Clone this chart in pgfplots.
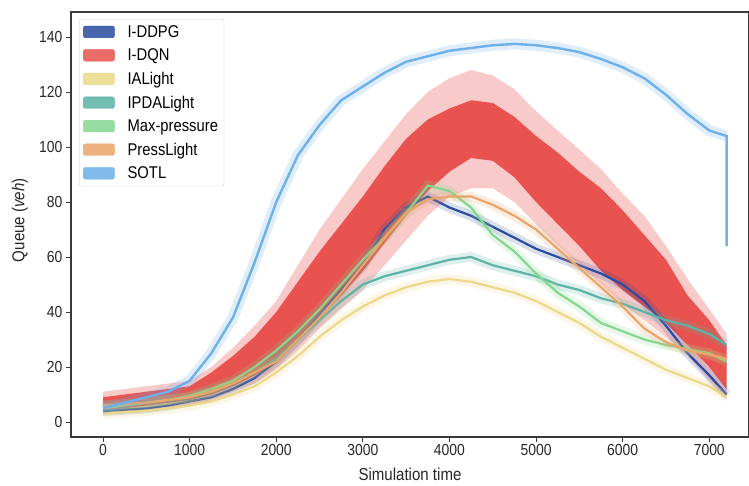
\documentclass[border=0pt]{standalone}
\usepackage{fontspec}
\setmainfont[FakeStretch=0.87]{Liberation Sans}
\usepackage{pgfplots}
\usepackage{pgfplotstable}
\pgfplotsset{compat=1.18}
\usepgfplotslibrary{fillbetween}
\definecolor{cddpg}{HTML}{2A4C9E}
\definecolor{cdqn}{HTML}{E8524F}
\definecolor{cial}{HTML}{EBD888}
\definecolor{cipda}{HTML}{5CB3A6}
\definecolor{cmaxp}{HTML}{86D690}
\definecolor{cpress}{HTML}{EBA56A}
\definecolor{csotl}{HTML}{6DB0EA}
\definecolor{spine}{HTML}{3A3A3A}
\pgfplotstableread{
x sotl ddpg dqn CL CH OL OH ial ipda maxp press
0 5 4 6.5 4 9 3 11 3 6 5 6
250 7 4.5 7.5 5 10 3.5 12 3.5 6.5 6 6.5
500 9 5 8.5 6 11 4 13 4 7 7 7
750 11 6 9.5 7 12 5 14 5 8 8 8
1000 15 7.5 10.5 8 13 6 15 6 9 9.5 9
1250 25 9 14 10 18 8 20 7.5 11 12 11
1500 38 12 18.5 13 24 11 27 10 14 15 14
1750 58 16 24 17 31 14 35 13 18 20 18
2000 80 22 31 22 40 19 44 18 23 26 22
2250 97 30 40 30 51 26 57 24 30 33 30
2500 108 39 50 38 62 34 70 31 37 41 38
2750 117 48 59 46 72 41 81 37 44 50 47
3000 122 57 68 55 82 48 92 42 50 59 57
3250 127 70 79 65 93 57 102 46 53 67 67
3500 131 78 89 75 103 66 112 49 55 76 76
3750 133 82 97 84 110 75 120 51 57 86 81
4000 135 78 102 91 114 82 125 52 59 84 82
4250 136 75 106 96 117 85 128 51 60 78 82
4500 137 71 105 95 116 85 126 49 57 68 79
4750 137.5 67 100 89 111 80 121 47 55 62 75
5000 137 63 92 80 104 72 113 44 53 54 70
5250 136 60 85 72 98 64 106 40 50 47 63
5500 134.5 57 77 64 91 57 99 36 48 42 56
5750 132 54 70 55 85 50 92 31 45 36 49
6000 129 50 62 48 77 43 83 27 43 33 42
6250 125 44 55 42 68 37 75 23 40 30 34
6500 119 35 47 36 59 31 64 19 37 28 29
6750 112 25 37 28 46 24 52 16 35 26.5 26
7000 106 17 28 20 37 15 41 13 32 25 24.5
7200 104 10 20 12 28 8 32 9 28 22 23
}\data
\begin{document}
\begin{tikzpicture}
\begin{axis}[
  scale only axis, width=678pt, height=425pt,
  xmin=-370, xmax=7459, ymin=-5.45, ymax=149.1,
  xtick={0,1000,...,7000}, ytick={0,20,...,140},
  tick pos=left, tick align=outside,
  major tick length=5pt,
  every tick/.style={spine, line width=1pt},
  axis line style={spine, line width=1.2pt},
  /pgf/number format/assume math mode=true,
  /pgf/number format/1000 sep={},
  tick label style={font=\fontsize{16}{18}\selectfont, text=black!85},
  xticklabel style={yshift=1pt},
  xlabel={Simulation time},
  ylabel={Queue (\textit{veh})},
  label style={font=\fontsize{17.3}{19}\selectfont, text=black!85},
  xlabel style={at={(axis description cs:0.5,-0.0875)}, anchor=center},
  ylabel style={at={(axis description cs:-0.0752,0.51)}, anchor=center},
  legend style={at={(axis description cs:0.0118,0.9835)}, anchor=north west,
    draw=black!18, rounded corners=2pt, fill=white, fill opacity=0.85, text opacity=1,
    font=\fontsize{17}{19}\selectfont, row sep=6pt, column sep=11pt,
    inner xsep=4pt, inner ysep=4pt},
  legend cell align=left,
]
% bands
\addplot[forget plot, cddpg, opacity=0.18, line width=10pt] table[x=x,y=ddpg]{\data};
\addplot[forget plot, name path=oh, draw=none] table[x=x,y=OH]{\data};
\addplot[forget plot, name path=ol, draw=none] table[x=x,y=OL]{\data};
\addplot[forget plot, cdqn!55, opacity=0.55] fill between[of=oh and ol];
\addplot[forget plot, name path=ch, draw=none] table[x=x,y=CH]{\data};
\addplot[forget plot, name path=cl, draw=none] table[x=x,y=CL]{\data};
% main lines
\addplot[forget plot, cddpg, line width=2.2pt] table[x=x,y=ddpg]{\data};
\addplot[forget plot, cdqn] fill between[of=ch and cl];
\addplot[forget plot, cial, opacity=0.22, line width=10pt] table[x=x,y=ial]{\data};
\addplot[forget plot, cial, line width=2.2pt] table[x=x,y=ial]{\data};
\addplot[forget plot, cipda, opacity=0.2, line width=10pt] table[x=x,y=ipda]{\data};
\addplot[forget plot, cipda, line width=2.2pt] table[x=x,y=ipda]{\data};
\addplot[forget plot, cmaxp, opacity=0.2, line width=10pt] table[x=x,y=maxp]{\data};
\addplot[forget plot, cmaxp, line width=2.2pt] table[x=x,y=maxp]{\data};
\addplot[forget plot, cpress, opacity=0.2, line width=10pt] table[x=x,y=press]{\data};
\addplot[forget plot, cpress, line width=2.2pt] table[x=x,y=press]{\data};
\addplot[forget plot, csotl, opacity=0.22, line width=11pt] table[x=x,y=sotl]{\data};
\addplot[forget plot, csotl, line width=2.4pt] coordinates {
(0,5) (250,7) (500,9) (750,11) (1000,15) (1250,25) (1500,38) (1750,58) (2000,80)
(2250,97) (2500,108) (2750,117) (3000,122) (3250,127) (3500,131) (3750,133)
(4000,135) (4250,136) (4500,137) (4750,137.5) (5000,137) (5250,136) (5500,134.5)
(5750,132) (6000,129) (6250,125) (6500,119) (6750,112) (7000,106) (7200,104) (7200,64)};
% legend
\addlegendimage{legend image code/.code={\fill[cddpg] (0pt,-5.8pt) rectangle (31pt,5.8pt);}}
\addlegendentry{I-DDPG}
\addlegendimage{legend image code/.code={\fill[cdqn] (0pt,-5.8pt) rectangle (31pt,5.8pt);}}
\addlegendentry{I-DQN}
\addlegendimage{legend image code/.code={\fill[cial] (0pt,-5.8pt) rectangle (31pt,5.8pt);}}
\addlegendentry{IALight}
\addlegendimage{legend image code/.code={\fill[cipda] (0pt,-5.8pt) rectangle (31pt,5.8pt);}}
\addlegendentry{IPDALight}
\addlegendimage{legend image code/.code={\fill[cmaxp] (0pt,-5.8pt) rectangle (31pt,5.8pt);}}
\addlegendentry{Max-pressure}
\addlegendimage{legend image code/.code={\fill[cpress] (0pt,-5.8pt) rectangle (31pt,5.8pt);}}
\addlegendentry{PressLight}
\addlegendimage{legend image code/.code={\fill[csotl] (0pt,-5.8pt) rectangle (31pt,5.8pt);}}
\addlegendentry{SOTL}
\end{axis}
\pgfresetboundingbox
\path[use as bounding box] ([xshift=-71pt,yshift=-49pt]current axis.south west) rectangle ([yshift=12pt]current axis.north east);
\end{tikzpicture}
\end{document}
